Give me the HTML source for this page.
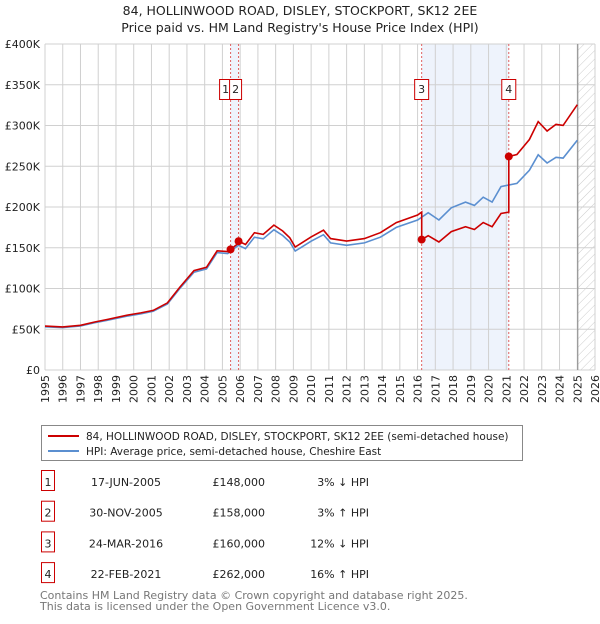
<!DOCTYPE html>
<html><head><meta charset="utf-8"><style>
body{margin:0;background:#fff;width:600px;height:620px;overflow:hidden;font-family:"DejaVu Sans","Liberation Sans",sans-serif;}
svg text{font-family:"DejaVu Sans","Liberation Sans",sans-serif;}
</style></head><body>
<svg id="chart" width="600" height="620" xmlns="http://www.w3.org/2000/svg">
<defs><pattern id="hatch" width="6" height="6" patternUnits="userSpaceOnUse" patternTransform="rotate(45)"><line x1="0" y1="0" x2="0" y2="6" stroke="#ccc" stroke-width="1"/></pattern></defs>
<text x="300" y="15" text-anchor="middle" font-size="12.5" fill="#222">84, HOLLINWOOD ROAD, DISLEY, STOCKPORT, SK12 2EE</text>
<text x="300" y="32" text-anchor="middle" font-size="12.5" fill="#222">Price paid vs. HM Land Registry's House Price Index (HPI)</text>
<g id="grid"></g><g id="marks"></g><g id="axes"></g>
<g>
<rect x="41.5" y="425.5" width="481" height="35" fill="#fff" stroke="#888"/>
<line x1="48" y1="436" x2="79" y2="436" stroke="#cc0000" stroke-width="2"/>
<text x="86" y="440" font-size="10.5" fill="#222">84, HOLLINWOOD ROAD, DISLEY, STOCKPORT, SK12 2EE (semi-detached house)</text>
<line x1="48" y1="451" x2="79" y2="451" stroke="#5b8fd0" stroke-width="2"/>
<text x="86" y="455" font-size="10.5" fill="#222">HPI: Average price, semi-detached house, Cheshire East</text>
</g>
<g id="table"></g>
<text x="40" y="599" font-size="11" fill="#777">Contains HM Land Registry data © Crown copyright and database right 2025.</text>
<text x="40" y="610" font-size="11" fill="#777">This data is licensed under the Open Government Licence v3.0.</text>
</svg>
<script>
const hpiYears=[1995,1996,1997,1997.8,1998.5,1999.6,2000.4,2001.1,2001.9,2002.6,2003.4,2004.1,2004.7,2005.3,2005.9,2006.3,2006.8,2007.3,2007.9,2008.4,2008.8,2009.1,2009.4,2010.0,2010.7,2011.1,2012.0,2013.0,2013.9,2014.8,2016.0,2016.6,2017.2,2017.9,2018.7,2019.2,2019.7,2020.2,2020.7,2021.6,2022.3,2022.8,2023.3,2023.8,2024.2,2025.0];
const hpiValues=[53,52,54,58,61,66,69,72,81,100,120,124,144,143,153,149,163,161,172,165,157,146,150,158,166,156,153,156,163,175,184,193,184,199,206,202,212,206,225,229,245,264,254,261,260,282];
const saleLabels=["1","2","3","4"];
const saleDates=["17-JUN-2005","30-NOV-2005","24-MAR-2016","22-FEB-2021"];
const saleYears=[2005.46,2005.91,2016.23,2021.14];
const salePrices=[148,158,160,262];
const salePriceText=["£148,000","£158,000","£160,000","£262,000"];
const saleDiffText=["3% ↓ HPI","3% ↑ HPI","12% ↓ HPI","16% ↑ HPI"];
const yTicks=[0,50,100,150,200,250,300,350,400];
const yTickLabels=["£0","£50K","£100K","£150K","£200K","£250K","£300K","£350K","£400K"];
const xTicks=[1995,1996,1997,1998,1999,2000,2001,2002,2003,2004,2005,2006,2007,2008,2009,2010,2011,2012,2013,2014,2015,2016,2017,2018,2019,2020,2021,2022,2023,2024,2025,2026];
const dataEnd=2025.03;

const L=45,R=595,T=44,B=370;
const x=y=>L+(y-1995)/(2026-1995)*(R-L);
const yv=v=>B-v/400*(B-T);
const NS="http://www.w3.org/2000/svg";
function mk(tag,attrs,parent){const e=document.createElementNS(NS,tag);for(const k in attrs)e.setAttribute(k,attrs[k]);parent.appendChild(e);return e;}
function hpiAt(t){if(t<=hpiYears[0])return hpiValues[0];for(let i=1;i<hpiYears.length;i++){if(t<=hpiYears[i]){const f=(t-hpiYears[i-1])/(hpiYears[i]-hpiYears[i-1]);return hpiValues[i-1]+f*(hpiValues[i]-hpiValues[i-1]);}}return hpiValues[hpiValues.length-1];}
const grid=document.getElementById('grid'),marks=document.getElementById('marks'),axes=document.getElementById('axes');
// shaded regions
let r=mk('rect',{x:x(saleYears[0]),y:T,width:x(saleYears[1])-x(saleYears[0]),height:B-T,fill:'#eef3fc'},grid);

r=mk('rect',{x:x(saleYears[2]),y:T,width:x(saleYears[3])-x(saleYears[2]),height:B-T,fill:'#eef3fc'},grid);

r=mk('rect',{x:x(dataEnd),y:T,width:R-x(dataEnd),height:B-T,fill:'url(#hatch)'},grid);

xTicks.forEach((t,i)=>{const l=mk('line',{x1:x(t),x2:x(t),y1:T,y2:B,stroke:'#d0d0d0','stroke-width':1},grid);

const tx=mk('text',{transform:`translate(${x(t)+4},${B+5}) rotate(-90)`,'text-anchor':'end','font-size':11,fill:'#222'},axes);tx.textContent=t;
});
yTicks.forEach((v,i)=>{const l=mk('line',{x1:L,x2:R,y1:yv(v),y2:yv(v),stroke:'#d0d0d0','stroke-width':1},grid);

const tx=mk('text',{x:40,y:yv(v)+4,'text-anchor':'end','font-size':11,fill:'#222'},axes);tx.textContent=yTickLabels[i];
});
let el=mk('line',{x1:x(dataEnd),x2:x(dataEnd),y1:T,y2:B,stroke:'#888','stroke-width':1},grid);

// HPI line
let d=hpiYears.map((t,i)=>(i?'L':'M')+x(t).toFixed(1)+','+yv(hpiValues[i]).toFixed(1)).join('');
el=mk('path',{d:d,fill:'none',stroke:'#5b8fd0','stroke-width':1.6},marks);

// property line
const pts=[];const times=hpiYears.concat(saleYears).sort((a,b)=>a-b);
times.forEach(t=>{let k=0;for(let j=0;j<saleYears.length;j++)if(t>=saleYears[j])k=j;
const jBefore=saleYears.indexOf(t);
if(jBefore>0){const p=jBefore-1;pts.push([t,salePrices[p]*hpiAt(t)/hpiAt(saleYears[p])]);}
pts.push([t,salePrices[k]*hpiAt(t)/hpiAt(saleYears[k])]);});
d=pts.map((p,i)=>(i?'L':'M')+x(p[0]).toFixed(1)+','+yv(p[1]).toFixed(1)).join('');
el=mk('path',{d:d,fill:'none',stroke:'#cc0000','stroke-width':1.6},marks);

const table=document.getElementById('table');
saleYears.forEach((t,i)=>{
el=mk('line',{x1:x(t),x2:x(t),y1:T,y2:B,stroke:'#e06060','stroke-width':1,'stroke-dasharray':'2,2'},grid);

el=mk('circle',{cx:x(t),cy:yv(salePrices[i]),r:4,fill:'#cc0000'},marks);

let bx=x(t)-7;if(i===0)bx=x(t)-11;if(i===1)bx=x(t)-9;
const g=mk('g',{},marks);

mk('rect',{x:bx,y:79.5,width:(i<2?12:14),height:20,fill:'#fff',stroke:'#cc0000'},g);
const tx=mk('text',{x:bx+(i<2?6:7),y:93,'text-anchor':'middle','font-size':11,fill:'#222'},g);tx.textContent=saleLabels[i];
const ry=482+i*30.7;
const row=mk('g',{},table);

mk('rect',{x:41.5,y:ry-11.5,width:13,height:20,fill:'#fff',stroke:'#cc0000'},row);
let c=mk('text',{x:48,y:ry+4,'text-anchor':'middle','font-size':11,fill:'#222'},row);c.textContent=saleLabels[i];
c=mk('text',{x:126,y:ry+4,'text-anchor':'middle','font-size':11,fill:'#222'},row);c.textContent=saleDates[i];
c=mk('text',{x:265,y:ry+4,'text-anchor':'end','font-size':11,fill:'#222'},row);c.textContent=salePriceText[i];
c=mk('text',{x:369,y:ry+4,'text-anchor':'end','font-size':11,fill:'#222'},row);c.textContent=saleDiffText[i];
});
</script>
</body></html>
